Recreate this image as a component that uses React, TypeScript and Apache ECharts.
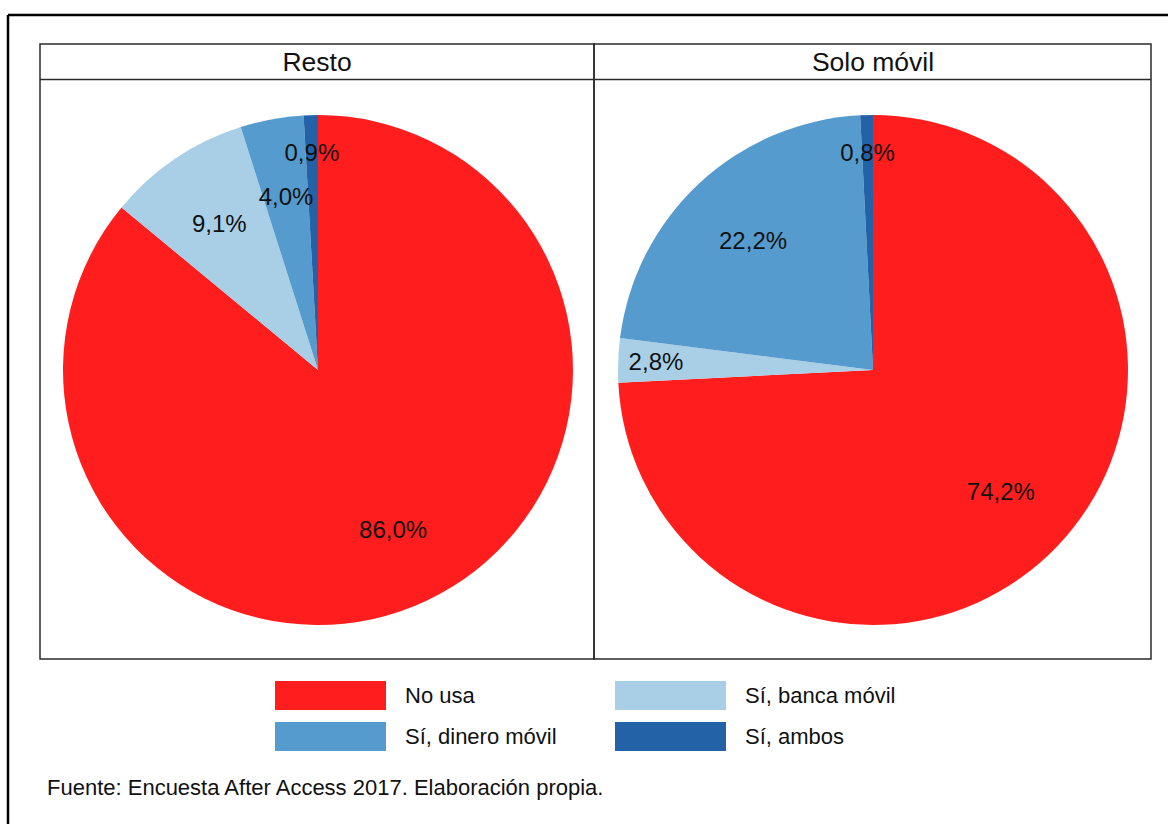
import React, { useEffect, useRef } from "react";
import * as echarts from "echarts";

const categories = ["No usa", "Sí, banca móvil", "Sí, dinero móvil", "Sí, ambos"];
const restoValues = [86.0, 9.1, 4.0, 0.9];
const soloMovilValues = [74.2, 2.8, 22.2, 0.8];
const panelTitles = ["Resto", "Solo móvil"];
const colors = ["#ff1d1d", "#a8cfe5", "#559bce", "#2462a8"];
const legendColumns = [
  ["No usa", "Sí, dinero móvil"],
  ["Sí, banca móvil", "Sí, ambos"],
];
const sourceNote = "Fuente: Encuesta After Access 2017. Elaboración propia.";

const FONT = "'Liberation Sans', Arial, Helvetica, sans-serif";
const R = 255;
const SMALL = 3;

const fmt = (v: number) => v.toFixed(1).replace(".", ",") + "%";

function mainSeries(values: number[], cx: number) {
  return {
    type: "pie",
    center: [cx, 370],
    radius: [0, R],
    startAngle: 90,
    clockwise: true,
    silent: true,
    label: { show: false },
    labelLine: { show: false },
    emphasis: { disabled: true },
    data: values.map((v, i) => ({
      name: categories[i],
      value: v,
      itemStyle: { color: colors[i] },
    })),
  };
}

function labelSeries(values: number[], cx: number, outer: boolean) {
  const frac = outer ? 0.84 : 0.68;
  return {
    type: "pie",
    center: [cx, 370],
    radius: [0, R * frac * 2],
    startAngle: 90,
    clockwise: true,
    silent: true,
    z: 5,
    itemStyle: { color: "transparent" },
    labelLine: { show: false },
    emphasis: { disabled: true },
    label: {
      show: true,
      position: "inside",
      fontFamily: FONT,
      fontSize: 24,
      color: "#111",
      formatter: (p: any) => fmt(p.value),
    },
    data: values.map((v, i) => ({
      name: categories[i],
      value: v,
      itemStyle: { color: "transparent" },
      label: { show: outer ? v < SMALL : v >= SMALL },
    })),
  };
}

export default function App() {
  const ref = useRef<HTMLDivElement>(null);
  useEffect(() => {
    if (!ref.current) return;
    const chart = echarts.init(ref.current, null, { renderer: "svg" });
    const leftCx = 318;
    const rightCx = 873;
    const legendBase = {
      orient: "vertical",
      top: 681,
      padding: 0,
      itemWidth: 111,
      itemHeight: 29,
      itemGap: 12,
      icon: "rect",
      selectedMode: false,
      textStyle: { fontFamily: FONT, fontSize: 22, color: "#111", padding: [0, 0, 0, 14] },
    };
    chart.setOption({
      animation: false,
      backgroundColor: "#ffffff",
      legend: [
        { ...legendBase, left: 275, data: legendColumns[0] },
        { ...legendBase, left: 615, data: legendColumns[1] },
      ],
      series: [
        mainSeries(restoValues, leftCx),
        mainSeries(soloMovilValues, rightCx),
        labelSeries(restoValues, leftCx, false),
        labelSeries(restoValues, leftCx, true),
        labelSeries(soloMovilValues, rightCx, false),
        labelSeries(soloMovilValues, rightCx, true),
      ],
      graphic: [
        { type: "line", shape: { x1: 8, y1: 15, x2: 1168, y2: 15 }, style: { stroke: "#000", lineWidth: 2.5 } },
        { type: "line", shape: { x1: 8, y1: 15, x2: 8, y2: 824 }, style: { stroke: "#000", lineWidth: 2.5 } },
        { type: "rect", shape: { x: 40, y: 44, width: 554, height: 615 }, style: { fill: "none", stroke: "#2a2a2a", lineWidth: 1.5 } },
        { type: "rect", shape: { x: 594, y: 44, width: 557, height: 615 }, style: { fill: "none", stroke: "#2a2a2a", lineWidth: 1.5 } },
        { type: "line", shape: { x1: 40, y1: 79.5, x2: 1151, y2: 79.5 }, style: { stroke: "#2a2a2a", lineWidth: 1.5 } },
        {
          type: "text", x: 317, y: 62,
          style: { text: panelTitles[0], fontFamily: FONT, fontSize: 26.5, fill: "#111", align: "center", verticalAlign: "middle" },
        },
        {
          type: "text", x: 873, y: 62,
          style: { text: panelTitles[1], fontFamily: FONT, fontSize: 26.5, fill: "#111", align: "center", verticalAlign: "middle" },
        },
        {
          type: "text", x: 47, y: 787,
          style: { text: sourceNote, fontFamily: FONT, fontSize: 22, fill: "#111", align: "left", verticalAlign: "middle" },
        },
      ],
    });
    return () => chart.dispose();
  }, []);
  return <div ref={ref} style={{ position: "absolute", left: 0, top: 0, width: 1168, height: 824 }} />;
}
